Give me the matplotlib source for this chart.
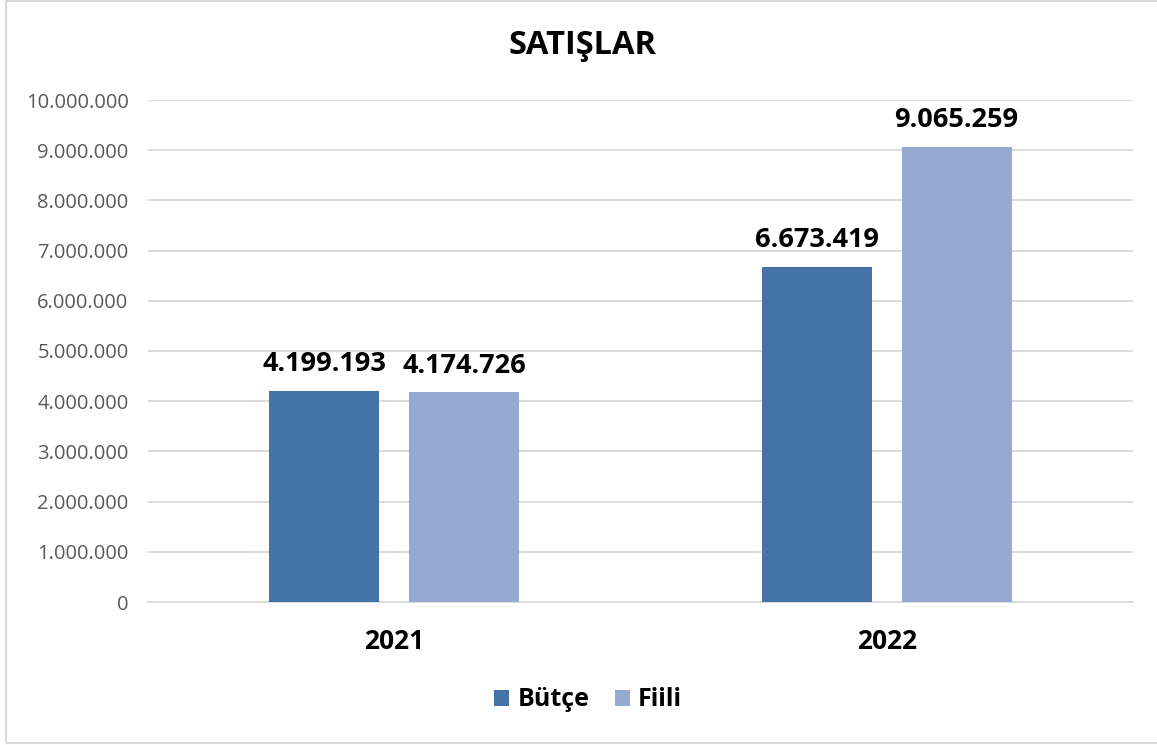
import numpy as np
import matplotlib
matplotlib.use("Agg")
from matplotlib import pyplot as plt
from matplotlib.patches import Rectangle
from matplotlib.ticker import FuncFormatter

# veriler
years = ["2021", "2022"]
butce = [4199193, 6673419]
fiili = [4174726, 9065259]
series_names = ["Bütçe", "Fiili"]
colors = ["#4573A7", "#95A9D1"]

plt.rcParams['font.family'] = ['Open Sans', 'DejaVu Sans']

W, H = 1157, 745
fig = plt.figure(figsize=(W / 100, H / 100), dpi=100)
fig.patch.set_facecolor("white")

# eksen alanı (piksel olarak okundu)
left, right, top, bottom = 148, 1133, 100, 602
ax = fig.add_axes([left / W, 1 - bottom / H, (right - left) / W, (bottom - top) / H])

def tr_fmt(v, pos):
    return f"{int(round(v)):,}".replace(",", ".")

x = np.arange(len(years))
bw = 0.223
off = 0.142

b1 = ax.bar(x - off, butce, bw, color=colors[0], label=series_names[0], zorder=3)
b2 = ax.bar(x + off, fiili, bw, color=colors[1], label=series_names[1], zorder=3)

for bars in (b1, b2):
    for r in bars:
        ax.annotate(tr_fmt(r.get_height(), None),
                    (r.get_x() + r.get_width() / 2, r.get_height()),
                    xytext=(0, 10), textcoords="offset points",
                    ha="center", va="bottom", fontsize=19.5, fontweight="bold",
                    color="black")

ax.set_xlim(-0.5, 1.5)
ax.set_ylim(0, 10000000)
ax.set_yticks(np.arange(0, 10000001, 1000000))
ax.yaxis.set_major_formatter(FuncFormatter(tr_fmt))
ax.set_xticks(x)
ax.set_xticklabels(years, fontsize=19, fontweight="bold")
ax.tick_params(axis="y", length=0, pad=14, labelsize=14.5, labelcolor="#595959")
ax.tick_params(axis="x", length=0, pad=19)
ax.grid(axis="y", color="#D9D9D9", linewidth=1.3, zorder=0)
for s in ["top", "right", "left"]:
    ax.spines[s].set_visible(False)
ax.spines["bottom"].set_color("#D9D9D9")
ax.spines["bottom"].set_linewidth(1.3)

fig.text(583 / W, 1 - 46 / H, "SATIŞLAR", ha="center", va="center",
         fontsize=23.5, fontweight="bold")

leg = fig.legend(handles=[b1, b2], loc="center", bbox_to_anchor=(588 / W, 1 - 700 / H),
                 ncol=2, frameon=False, prop={"size": 18, "weight": "bold"},
                 handlelength=0.6, handleheight=0.6, handletextpad=0.35,
                 columnspacing=1.0)

# grafik çerçevesi
fig.patches.append(Rectangle((6 / W, 2 / H), 1.0, 1 - 3 / H, transform=fig.transFigure,
                             fill=False, edgecolor="#D9D9D9", linewidth=1.5))

fig.savefig("out.png", dpi=100)
